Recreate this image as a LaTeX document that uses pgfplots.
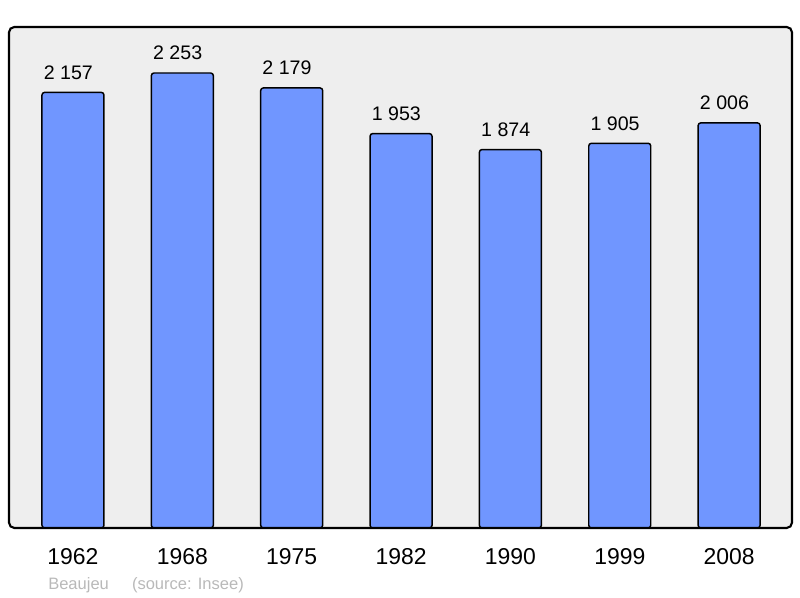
\documentclass[border=0pt]{standalone}
\usepackage{fontspec}
\setmainfont{Liberation Sans}
\usepackage{pgfplots}
\pgfplotsset{compat=1.18}
\definecolor{barblue}{RGB}{112,150,255}
\definecolor{bggray}{RGB}{238,238,238}
\definecolor{srcgray}{RGB}{185,185,185}
\begin{document}
\begin{tikzpicture}
\useasboundingbox (0,0) rectangle (600pt,448.5pt);
\begin{axis}[
  at={(6.75pt,52.5pt)}, anchor=south west,
  scale only axis, width=587.25pt, height=375.75pt,
  xmin=-0.585, xmax=6.575, ymin=0, ymax=2480.8,
  axis line style={draw=none},
  axis background/.style={fill=bggray, rounded corners=4pt},
  ybar, bar width=46.5pt,
  xtick={0,...,6}, xticklabels={1962,1968,1975,1982,1990,1999,2008},
  xtick pos=bottom,
  ytick=\empty,
  major tick length=0pt,
  /pgf/number format/assume math mode=true,
  xticklabel style={font=\fontsize{17.2pt}{20pt}\selectfont, anchor=base, yshift=-27.75pt},
  nodes near coords,
  point meta=explicit symbolic,
  nodes near coords style={font=\fontsize{14.7pt}{17pt}\selectfont, anchor=base, yshift=9.75pt, xshift=-3.5pt},
  extra description/.code={\draw[line width=1.6pt, rounded corners=4pt] (rel axis cs:0,0) rectangle (rel axis cs:1,1);},
  clip=false,
]
\addplot[fill=barblue, draw=black, line width=1.1pt, rounded corners=2pt] coordinates {
  (0,2157) [2 157]
  (1,2253) [2 253]
  (2,2179) [2 179]
  (3,1953) [1 953]
  (4,1874) [1 874]
  (5,1905) [1 905]
  (6,2006) [2 006]
};
\end{axis}
\node[anchor=base west, inner sep=0pt, text=srcgray, font=\fontsize{12.4pt}{14pt}\selectfont] at (36pt,6pt) {Beaujeu};
\node[anchor=base west, inner sep=0pt, text=srcgray, font=\fontsize{12.4pt}{14pt}\selectfont] at (98.8pt,6pt) {(source: Insee)};
\end{tikzpicture}
\end{document}
